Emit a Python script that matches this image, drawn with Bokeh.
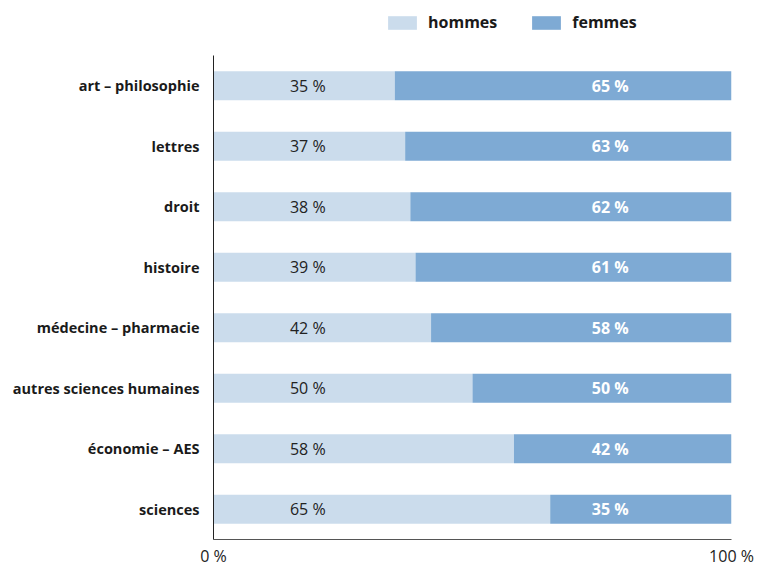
from bokeh.plotting import figure
from bokeh.layouts import column
from bokeh.models import ColumnDataSource, FactorRange, Range1d, FixedTicker, CustomJSTickFormatter, Legend, LegendItem
from bokeh.core.properties import value
from bokeh.embed import file_html
from bokeh.resources import INLINE

categories = ["art – philosophie", "lettres", "droit", "histoire", "médecine – pharmacie",
              "autres sciences humaines", "économie – AES", "sciences"]
hommes = [35, 37, 38, 39, 42, 50, 58, 65]
femmes = [65, 63, 62, 61, 58, 50, 42, 35]
series_names = ["hommes", "femmes"]
x_tick_labels = ["0 %", "100 %"]

C_H = "#cbdcec"
C_F = "#7eaad4"
FONT = "Open Sans"

cats_rev = list(reversed(categories))
src = ColumnDataSource(dict(
    cat=categories,
    hommes=hommes,
    femmes=femmes,
    total=[h + f for h, f in zip(hommes, femmes)],
    h_lab=[f"{v} %" for v in hommes],
    f_lab=[f"{v} %" for v in femmes],
    h_pos=[18.2] * len(categories),
    f_pos=[76.6] * len(categories),
))

# ---- legend strip (top) ----
lg = figure(frame_width=518, frame_height=55, output_backend="svg", toolbar_location=None,
            x_range=Range1d(0, 100), y_range=Range1d(0, 100),
            min_border_left=213, min_border_right=29, min_border_top=0, min_border_bottom=0)
lg.axis.visible = False
lg.grid.visible = False
lg.outline_line_color = None
# legend proxies: zero-size bars (nothing drawn), so only their legend swatches show
lh = lg.hbar(y="hommes", left="hommes", right="hommes", height=0, source=src,
             fill_color=C_H, line_color=None)
lf = lg.hbar(y="femmes", left="femmes", right="femmes", height=0, source=src,
             fill_color=C_F, line_color=None)
legend = Legend(items=[LegendItem(label=series_names[0], renderers=[lh]),
                       LegendItem(label=series_names[1], renderers=[lf])],
                orientation="horizontal", location=(171, 22),
                glyph_width=36, glyph_height=17, label_standoff=8, spacing=31,
                padding=0, margin=0, border_line_color=None, background_fill_alpha=0,
                label_text_font=FONT, label_text_font_size="16px", label_text_font_style="bold",
                label_text_color="#1a1a1a", label_height=17)
lg.add_layout(legend, "center")

# ---- main chart ----
p = figure(frame_width=518, frame_height=484, output_backend="svg", toolbar_location=None,
           y_range=FactorRange(*cats_rev, range_padding=0), x_range=Range1d(0, 100),
           min_border_left=213, min_border_right=29, min_border_top=0, min_border_bottom=27)
p.outline_line_color = None
p.grid.visible = False
p.background_fill_color = "white"

p.hbar(y="cat", left=0, right="hommes", height=0.48, source=src, color=C_H, line_color=None)
p.hbar(y="cat", left="hommes", right="total", height=0.48, source=src, color=C_F, line_color=None)

p.text(x="h_pos", y="cat", text="h_lab", source=src, text_align="center", text_baseline="middle",
       text_font=value(FONT), text_font_size="16px", text_color="#222222")
p.text(x="f_pos", y="cat", text="f_lab", source=src, text_align="center", text_baseline="middle",
       text_font=value(FONT), text_font_size="16px", text_font_style="bold", text_color="white")

p.xaxis.ticker = FixedTicker(ticks=[0, 100])
p.xaxis.formatter = CustomJSTickFormatter(args=dict(labels=x_tick_labels),
                                          code="return tick == 0 ? labels[0] : labels[1];")
p.xaxis.major_tick_line_color = None
p.xaxis.major_tick_out = 0
p.xaxis.major_tick_in = 0
p.xaxis.minor_tick_line_color = None
p.xaxis.minor_tick_out = 0
p.xaxis.axis_line_color = "#555555"
p.xaxis.major_label_text_font = FONT
p.xaxis.major_label_text_font_size = "16px"
p.xaxis.major_label_text_color = "#222222"
p.xaxis.major_label_standoff = 5

p.yaxis.major_tick_line_color = None
p.yaxis.major_tick_out = 0
p.yaxis.major_tick_in = 0
p.yaxis.minor_tick_line_color = None
p.yaxis.minor_tick_out = 0
p.yaxis.axis_line_color = "#222222"
p.yaxis.major_label_text_font = FONT
p.yaxis.major_label_text_font_size = "14.5px"
p.yaxis.major_label_text_font_style = "bold"
p.yaxis.major_label_text_color = "#1a1a1a"
p.yaxis.major_label_standoff = 14

layout = column(lg, p, spacing=0)
open("out.html", "w").write(file_html(layout, INLINE))
